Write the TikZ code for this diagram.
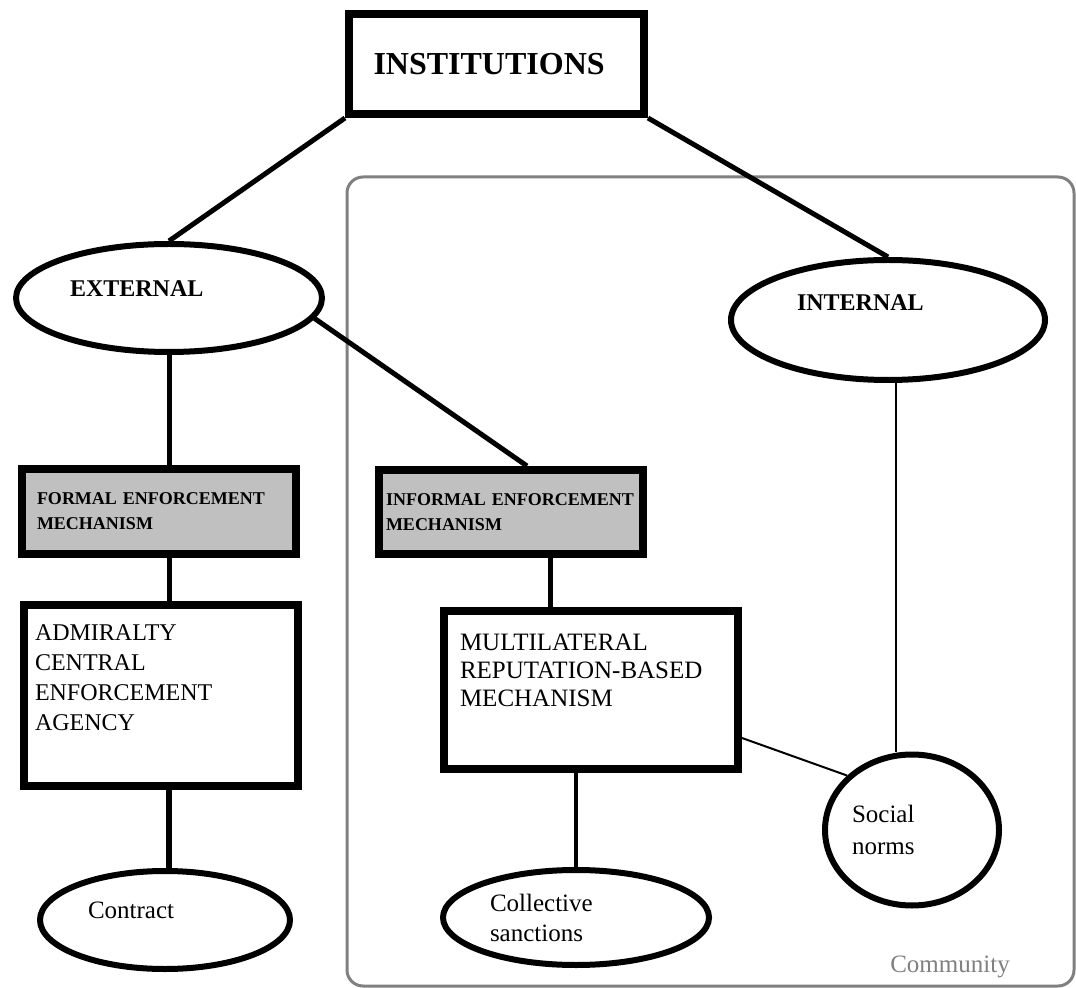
\documentclass[tikz,border=0pt]{standalone}
\usepackage{fontspec}
\setmainfont{Liberation Serif}
\usetikzlibrary{shapes.geometric}
\definecolor{boxgrey}{RGB}{192,192,192}
\definecolor{framegrey}{RGB}{128,128,128}

\begin{document}
\begin{tikzpicture}[x=0.5pt, y=-0.5pt,
        blk/.style={draw, line width=4pt, inner sep=0pt, align=left},
        oval/.style={draw, ellipse, line width=3pt, inner sep=0pt, align=left},
        mech/.style={blk, fill=boxgrey, font=\fontsize{9}{12.5}\selectfont\bfseries},
        hd/.style={font=\fontsize{12}{14}\selectfont\bfseries},
        lnk/.style={line width=2.5pt},
        lnkthin/.style={line width=1pt}]
        \useasboundingbox (0,0) rectangle (1076,988);
        % community frame
        \draw[framegrey, line width=1.5pt, rounded corners=8pt] (347,177) rectangle (1074,986);
        \node[framegrey, font=\fontsize{12.5}{15}\selectfont] (comm) at (950,967) {Community};
        % top
        \node[blk, minimum width=147.5pt, minimum height=50pt, text width=123pt,
            font=\fontsize{16}{19}\selectfont\bfseries] (inst) at (496.5,64) {INSTITUTIONS};
        \node[oval, hd, minimum width=153pt, minimum height=54pt, text width=99pt,
            text depth=9pt] (ext) at (169,298) {EXTERNAL};
        \node[oval, hd, minimum width=157pt, minimum height=60pt, text width=91pt,
            text depth=17pt] (int) at (888,320) {INTERNAL};
        % enforcement
        \node[mech, minimum width=137pt, minimum height=42.5pt, text width=122pt] (form)
            at (159,511.5) {FORMAL ENFORCEMENT\\MECHANISM};
        \node[mech, minimum width=132pt, minimum height=42pt, text width=125pt] (inf)
            at (511,512) {INFORMAL ENFORCEMENT\\MECHANISM};
        \node[blk, minimum width=137pt, minimum height=90.5pt, text width=126pt, text depth=63pt,
            font=\fontsize{12}{15}\selectfont] (adm) at (161,695.5)
            {ADMIRALTY\\CENTRAL\\ENFORCEMENT\\AGENCY};
        \node[blk, minimum width=147pt, minimum height=79pt, text width=131pt, text depth=48pt,
            font=\fontsize{12.5}{14}\selectfont] (mul) at (591,690)
            {MULTILATERAL\\REPUTATION-BASED\\MECHANISM};
        % bottom
        \node[oval, minimum width=125pt, minimum height=49pt, text width=77pt, text depth=10pt,
            font=\fontsize{12.5}{15}\selectfont] (con) at (165,920) {Contract};
        \node[oval, minimum width=133pt, minimum height=47.5pt, text width=86pt,
            font=\fontsize{12.5}{15}\selectfont] (col) at (576,917.5) {Collective\\sanctions};
        \node[oval, minimum width=87pt, minimum height=75.5pt, text width=60pt,
            font=\fontsize{12.5}{16}\selectfont] (soc) at (912,830) {Social\\norms};
        % links
        \coordinate (infx) at ([xshift=19.5pt]inf.south);
        \coordinate (intx) at ([xshift=4pt]int.south);
        \draw[lnk] (inst.south west) -- (ext.north);
        \draw[lnk] (inst.south east) -- (int.north);
        \draw[lnk] (ext.south) -- (ext.south |- form.north);
        \draw[lnk] (ext.south |- form.south) -- (ext.south |- adm.north);
        \draw[lnk, line width=3pt] (ext.south |- adm.south) -- (ext.south |- con.north);
        \draw[lnk] (ext.-8) -- ([xshift=8pt]inf.north);
        \draw[lnk] (infx) -- (infx |- mul.north);
        \draw[lnk, line width=2pt] (mul.south -| col.north) -- (col.north);
        \draw[lnkthin] (intx) -- (intx |- soc.north);
        \draw[lnkthin] ([yshift=-24pt]mul.east) -- (soc.140);
\end{tikzpicture}
\end{document}
